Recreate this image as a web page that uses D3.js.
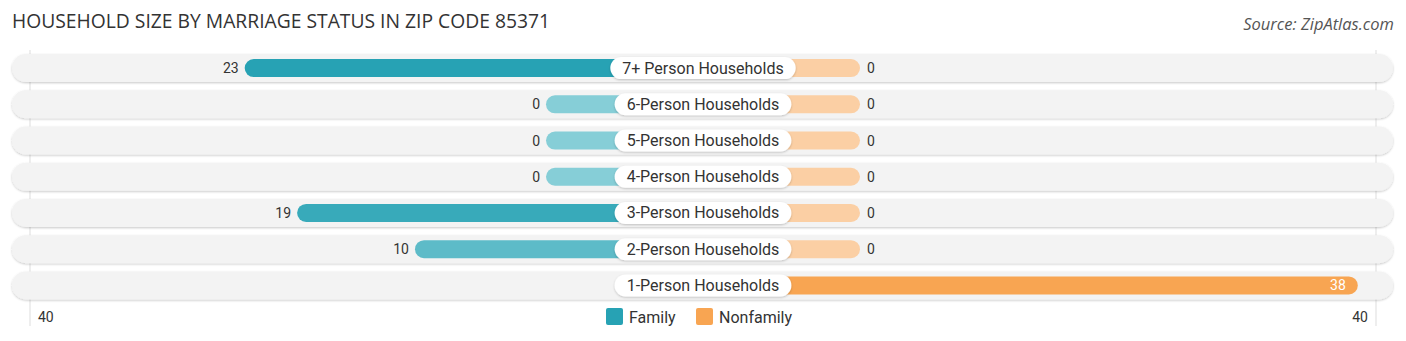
<!DOCTYPE html>
<html><head><meta charset="utf-8">
<script src="https://cdn.jsdelivr.net/npm/d3@7"></script>
<style>body{margin:0;background:#fff;} svg{display:block;}</style>
</head><body>
<svg id="chart" width="1406" height="341"></svg>
<script>
const categories = ["7+ Person Households","6-Person Households","5-Person Households","4-Person Households","3-Person Households","2-Person Households","1-Person Households"];
const family = [23, 0, 0, 0, 19, 10, null];
const nonfamily = [0, 0, 0, 0, 0, 0, 38];
const axisMax = 40;
const tickLabels = ["40", "40"];
const seriesNames = ["Family", "Nonfamily"];

const W = 1406, H = 341, cx = 703;
const svg = d3.select("#chart");
const font = "Roboto, 'Open Sans', sans-serif";

svg.append("text").attr("x", 12).attr("y", 28).text("HOUSEHOLD SIZE BY MARRIAGE STATUS IN ZIP CODE 85371")
  .attr("font-family", "'Open Sans', sans-serif").attr("font-size", 19.3).attr("fill", "#333");
svg.append("text").attr("x", 1394).attr("y", 30).attr("text-anchor", "end").text("Source: ZipAtlas.com")
  .attr("font-family", "'Open Sans', sans-serif").attr("font-style", "italic").attr("font-size", 16.5).attr("fill", "#555");

const y = d3.scaleBand().domain(categories).range([50, 303.5]).paddingInner(0).paddingOuter(0);
const stub = 157;
const xL = d3.scaleLinear().domain([0, axisMax]).range([cx - stub, cx - stub - 524]);
const xR = d3.scaleLinear().domain([0, axisMax]).range([cx + stub, cx + stub + 524]);

const defs = svg.append("defs");
const f = defs.append("filter").attr("id", "sh").attr("x", "-5%").attr("y", "-50%").attr("width", "110%").attr("height", "200%");
f.append("feDropShadow").attr("dx", 0).attr("dy", 1).attr("stdDeviation", 1).attr("flood-color", "#000").attr("flood-opacity", 0.22);

// grid lines
[30, 1376].forEach(x => {
  svg.append("line").attr("x1", x).attr("x2", x).attr("y1", 50).attr("y2", 326).attr("stroke", "#ddd").attr("stroke-width", 1);
});

const bh = 28, barH = 18;
const rows = svg.selectAll("g.row").data(categories).join("g").attr("class", "row")
  .attr("transform", d => `translate(0,${y(d) + y.bandwidth() / 2})`);

rows.append("rect").attr("x", 12).attr("y", -bh / 2).attr("width", 1381).attr("height", bh)
  .attr("rx", bh / 2).attr("fill", "#f3f3f3").attr("filter", "url(#sh)");

const famColor = v => d3.interpolateRgb("#86ced7", "#27a2b4")(Math.min(1, v / 23));
const nonColor = v => d3.interpolateRgb("#fbcfa4", "#f8a552")(Math.min(1, v / 38));

const famIdx = d3.range(categories.length).filter(i => family[i] != null);
const nonIdx = d3.range(categories.length).filter(i => nonfamily[i] != null);

rows.filter((d, i) => family[i] != null).each(function (d) {
  const i = categories.indexOf(d), v = family[i], g = d3.select(this);
  g.append("rect").attr("x", xL(v)).attr("y", -barH / 2).attr("width", cx - xL(v)).attr("height", barH)
    .attr("rx", barH / 2).attr("fill", famColor(v));
  g.append("text").attr("x", xL(v) - 6).attr("y", 5).attr("text-anchor", "end").text(v)
    .attr("font-family", font).attr("font-size", 14).attr("fill", "#333");
});
rows.filter((d, i) => nonfamily[i] != null).each(function (d) {
  const i = categories.indexOf(d), v = nonfamily[i], g = d3.select(this);
  const inside = v > 30;
  g.append("rect").attr("x", cx).attr("y", -barH / 2).attr("width", xR(v) - cx).attr("height", barH)
    .attr("rx", barH / 2).attr("fill", nonColor(v));
  g.append("text").attr("x", inside ? xR(v) - 12 : xR(v) + 7).attr("y", 5)
    .attr("text-anchor", inside ? "end" : "start").text(v)
    .attr("font-family", font).attr("font-size", 14).attr("fill", inside ? "#fff" : "#333");
});

// category label pills
rows.each(function (d) {
  const g = d3.select(this);
  const t = g.append("text").attr("x", cx).attr("y", 5.5).attr("text-anchor", "middle").text(d)
    .attr("font-family", font).attr("font-size", 16).attr("fill", "#333");
  const w = t.node().getComputedTextLength() + 24;
  g.insert("rect", "text:last-of-type").attr("x", cx - w / 2).attr("y", -11).attr("width", w).attr("height", 22)
    .attr("rx", 11).attr("fill", "#fff").attr("filter", "url(#sh)");
});

// axis labels
svg.append("text").attr("x", 38).attr("y", 322).text(tickLabels[0]).attr("font-family", font).attr("font-size", 14).attr("fill", "#333");
svg.append("text").attr("x", 1368).attr("y", 322).attr("text-anchor", "end").text(tickLabels[1]).attr("font-family", font).attr("font-size", 14).attr("fill", "#333");

// legend
const legend = [{n: seriesNames[0], c: "#27a2b4", x: 606}, {n: seriesNames[1], c: "#f8a552", x: 696}];
legend.forEach(l => {
  svg.append("rect").attr("x", l.x).attr("y", 308).attr("width", 17).attr("height", 17).attr("rx", 2).attr("fill", l.c);
  svg.append("text").attr("x", l.x + 23).attr("y", 323).text(l.n).attr("font-family", font).attr("font-size", 16).attr("fill", "#333");
});
</script>
</body></html>
